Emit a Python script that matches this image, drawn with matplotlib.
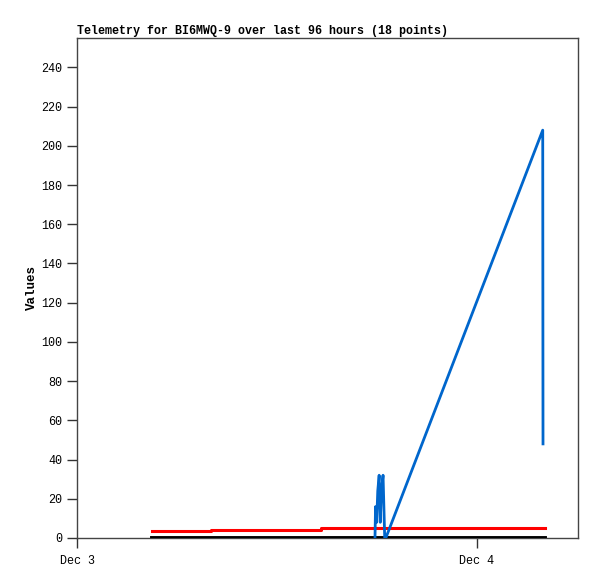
"""
Telemetry chart for BI6MWQ-9, last 96 hours
"""
import matplotlib
matplotlib.use("Agg")
import matplotlib.pyplot as plt
import matplotlib.dates as mdates
import pandas as pd

# red channel (step)
red_times = ["2024-12-03 04:30", "2024-12-03 08:02", "2024-12-03 14:38", "2024-12-04 04:05"]
red_values = [3.6, 4.2, 4.9, 4.9]

# black channel
black_times = ["2024-12-03 04:30", "2024-12-03 08:02", "2024-12-03 14:38", "2024-12-04 04:05"]
black_values = [0, 0, 0, 0]

# blue channel
blue_times = ["2024-12-03 17:53", "2024-12-03 17:55", "2024-12-03 17:59", "2024-12-03 18:03",
              "2024-12-03 18:08", "2024-12-03 18:12", "2024-12-03 18:16", "2024-12-03 18:22",
              "2024-12-03 18:28", "2024-12-03 18:32", "2024-12-04 03:57", "2024-12-04 03:58"]
blue_values = [0, 16, 8, 24, 32, 8, 24, 32, 0, 0, 208, 48]

x_start = "2024-12-03 00:00"
x_end = "2024-12-04 06:04"

fig = plt.figure(figsize=(5.97, 5.79), dpi=100)
ax = fig.add_axes([77 / 597, 1 - 538 / 579, 501 / 597, 500 / 579])

mono = ["Liberation Mono", "DejaVu Sans Mono"]

ax.step(pd.to_datetime(red_times), red_values, where="post", color="#ff0000", linewidth=2.2, zorder=3)
ax.plot(pd.to_datetime(black_times), black_values, color="#000000", linewidth=2.8, zorder=4)
ax.plot(pd.to_datetime(blue_times), blue_values, color="#0066cc", linewidth=2.0, zorder=5)

ax.set_xlim(pd.to_datetime(x_start), pd.to_datetime(x_end))
ax.set_ylim(0, 255)
ax.set_yticks(range(0, 241, 20))
ax.xaxis.set_major_locator(mdates.DayLocator())
ax.xaxis.set_major_formatter(mdates.DateFormatter("%b %-d"))

for s in ax.spines.values():
    s.set_color("#444444")
    s.set_linewidth(1)
ax.tick_params(axis="both", direction="out", length=7, width=1, color="#333333", labelsize=8.5)
ax.tick_params(axis="x", pad=5, labelsize=8.5)
for lbl in ax.get_xticklabels() + ax.get_yticklabels():
    lbl.set_family(mono)

ax.set_ylabel("Values", fontfamily=mono, fontweight="bold", fontsize=9, labelpad=0)
ax.yaxis.set_label_coords(-0.077, 0.5)
ax.set_title("Telemetry for BI6MWQ-9 over last 96 hours (18 points)", loc="left",
             fontfamily=mono, fontweight="bold", fontsize=8.4, pad=3)

fig.savefig("out.png", dpi=100, facecolor="white")
